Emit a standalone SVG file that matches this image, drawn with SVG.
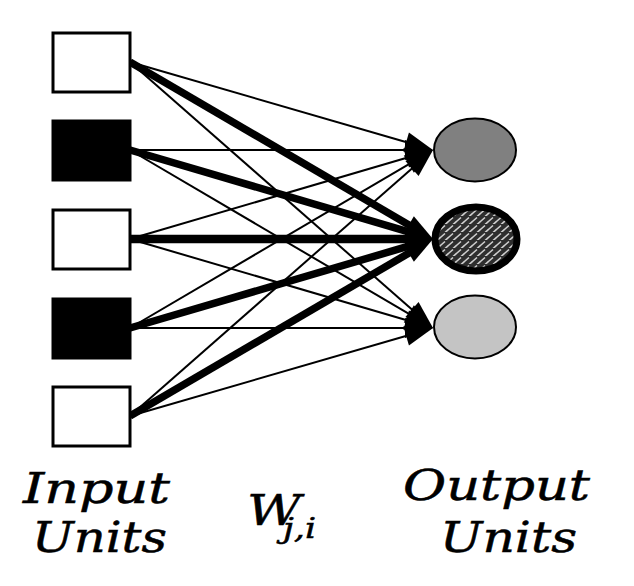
<svg xmlns="http://www.w3.org/2000/svg" width="634" height="586" viewBox="0 0 634 586">
<style>
.box{stroke:#000;stroke-width:3}
.on{fill:#000}
.off{fill:#fff}
.thin{stroke:#000;stroke-width:2;fill:none;marker-end:url(#ah)}
.thick{stroke:#000;stroke-width:7.5;fill:none;marker-end:url(#ah)}
.lbl{font-family:"DejaVu Serif",serif;font-style:italic;font-size:42px;fill:#000;stroke:#000;stroke-width:0.5}
</style>
<defs>
<marker id="ah" markerUnits="userSpaceOnUse" markerWidth="30" markerHeight="22" refX="14" refY="10" orient="auto" overflow="visible">
<path d="M0,0 L28,10 L0,20 z" fill="#000"/>
</marker>
<pattern id="weave" patternUnits="userSpaceOnUse" width="8" height="8">
<rect width="8" height="8" fill="#2e2e2e"/>
<path d="M1,5 L5,1.5 M5,8.5 L9,5 M-3,8.5 L1,5" stroke="#cfcfcf" stroke-width="1.6" fill="none"/>
</pattern>
</defs>
<g id="connectors">
<path class="thin" d="M130,62 L419.6,146.05"/>
<path class="thick" d="M130,62 L420.9,231.9"/>
<path class="thin" d="M130,62 L422.5,318.8"/>
<path class="thin" d="M130,150 L419,150"/>
<path class="thick" d="M130,150 L419.6,235.05"/>
<path class="thin" d="M130,150 L420.9,320.9"/>
<path class="thin" d="M130,239 L419.6,153.95"/>
<path class="thick" style="stroke-width:8.5" d="M130,239 L419,239"/>
<path class="thin" d="M130,239 L419.6,324.05"/>
<path class="thin" d="M130,328 L420.9,157.1"/>
<path class="thick" d="M130,328 L419.6,242.95"/>
<path class="thin" d="M130,328 L419,328"/>
<path class="thin" d="M130,416 L422.5,159.2"/>
<path class="thick" d="M130,416 L420.9,246.1"/>
<path class="thin" d="M130,416 L419.6,331.95"/>
</g>
<g id="in1"><rect class="box off" x="53" y="33" width="77" height="59"/></g>
<g id="in2"><rect class="box on" x="53" y="121" width="77" height="59"/></g>
<g id="in3"><rect class="box off" x="53" y="210" width="77" height="59"/></g>
<g id="in4"><rect class="box on" x="53" y="299" width="77" height="59"/></g>
<g id="in5"><rect class="box off" x="53" y="387" width="77" height="59"/></g>
<g id="out1"><ellipse cx="475" cy="150" rx="41" ry="31.5" fill="#808080" stroke="#000" stroke-width="2"/></g>
<g id="out2"><ellipse cx="476" cy="239" rx="41" ry="32" fill="url(#weave)" stroke="#000" stroke-width="7"/></g>
<g id="out3"><ellipse cx="475" cy="327" rx="41" ry="31.5" fill="#c4c4c4" stroke="#000" stroke-width="2"/></g>
<g id="labels">
<text class="lbl" x="23" y="503" textLength="147" lengthAdjust="spacingAndGlyphs">Input</text>
<text class="lbl" x="32" y="552" textLength="135" lengthAdjust="spacingAndGlyphs">Units</text>
<text class="lbl" x="403" y="500" textLength="187" lengthAdjust="spacingAndGlyphs">Output</text>
<text class="lbl" x="440" y="552" textLength="137" lengthAdjust="spacingAndGlyphs">Units</text>
<text class="lbl" transform="translate(247,525) scale(1.25,1)" x="0" y="0">W<tspan x="28.8" y="13" style="font-size:28px">j,i</tspan></text>
</g>
</svg>
